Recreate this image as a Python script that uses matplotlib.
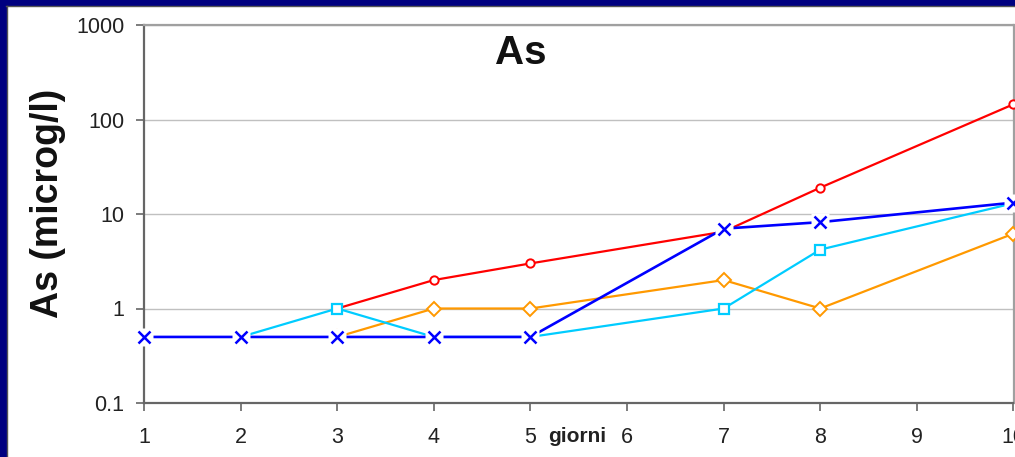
import matplotlib.pyplot as plt
from matplotlib.patches import Rectangle
from matplotlib.transforms import ScaledTranslation
from matplotlib.ticker import FixedLocator, FixedFormatter, NullLocator

plt.rcParams['font.family'] = ['Liberation Sans', 'DejaVu Sans']

# arsenic concentration (microg/l) per day, one list pair per sample series
red_days = [3, 4, 5, 7, 8, 10]
red_vals = [1, 2, 3, 6.5, 19, 145]
orange_days = [3, 4, 5, 7, 8, 10]
orange_vals = [0.5, 1, 1, 2, 1, 6.2]
cyan_days = [2, 3, 4, 5, 7, 8, 10]
cyan_vals = [0.5, 1, 0.5, 0.5, 1, 4.2, 13]
blue_days = [1, 2, 3, 4, 5, 7, 8, 10]
blue_vals = [0.5, 0.5, 0.5, 0.5, 0.5, 7, 8.2, 13.2]

x_ticks = [1, 2, 3, 4, 5, 6, 7, 8, 9, 10]
y_ticks = [0.1, 1, 10, 100, 1000]
y_labels = ['0.1', '1', '10', '100', '1000']

fig = plt.figure(figsize=(10.15, 4.57), dpi=100)
fig.patch.set_facecolor('white')

# navy frame strips along the left and top edges
fig.patches.append(Rectangle((0, 0), 6 / 1015, 1, transform=fig.transFigure,
                             color='#000080', zorder=0))
fig.patches.append(Rectangle((0, 1 - 5 / 457), 1, 5 / 457, transform=fig.transFigure,
                             color='#000080', zorder=0))
fig.lines.append(plt.Line2D([6 / 1015, 1], [1 - 6 / 457, 1 - 6 / 457],
                            transform=fig.transFigure, color='#555555', lw=1))
fig.lines.append(plt.Line2D([6.5 / 1015, 6.5 / 1015], [0, 1 - 6 / 457],
                            transform=fig.transFigure, color='#555555', lw=1))

ax = fig.add_axes([144 / 1015, 54 / 457, 869.5 / 1015, 378 / 457])
ax.set_yscale('log')
ax.set_ylim(0.1, 1000)
ax.set_xlim(1, 10)

ax.yaxis.set_major_locator(FixedLocator(y_ticks))
ax.yaxis.set_major_formatter(FixedFormatter(y_labels))
ax.yaxis.set_minor_locator(NullLocator())
ax.set_xticks(x_ticks)
ax.grid(axis='y', color='#c0c0c0', lw=1)
ax.set_axisbelow(True)

for side in ['left', 'bottom']:
    ax.spines[side].set_color('#666666')
    ax.spines[side].set_linewidth(1.6)
for side in ['top', 'right']:
    ax.spines[side].set_color('#a0a0a0')
    ax.spines[side].set_linewidth(1.6)
ax.tick_params(direction='out', length=6, width=1.2, color='#666666',
               labelsize=15.5, labelcolor='#222222')
ax.tick_params(axis='x', pad=11)
ax.tick_params(axis='y', pad=8)

lw = 1.6
ax.plot(red_days, red_vals, color='#ff0000', lw=lw, marker='o', ms=6,
        mfc='white', mec='#ff0000', mew=1.4, clip_on=False, zorder=3)
ax.plot(orange_days, orange_vals, color='#ff9900', lw=lw, marker='D', ms=7,
        mfc='white', mec='#ff9900', mew=1.4, clip_on=False, zorder=4)
ax.plot(cyan_days, cyan_vals, color='#00ccff', lw=lw, marker='s', ms=7.5,
        mfc='white', mec='#00ccff', mew=1.6, clip_on=False, zorder=5)
ax.plot(blue_days, blue_vals, color='#0000ff', lw=lw + 0.3, clip_on=False, zorder=6)
ax.plot(blue_days, blue_vals, ls='none', marker='s', ms=13, mfc='white', mec='none',
        clip_on=False, zorder=7)
ax.plot(blue_days, blue_vals, ls='none', marker='x', ms=9, mec='#0000ff', mew=1.8,
        clip_on=False, zorder=8)

ax.text(0.433, 0.925, 'As', transform=ax.transAxes, ha='center', va='center',
        fontsize=29, fontweight='bold', color='#111111')
# axis title sits in the tick label row, between days 5 and 6
giorni_offset = ScaledTranslation(0, -17 / 72, fig.dpi_scale_trans)
ax.text(5.48, 0, 'giorni', ha='center', va='top', fontsize=15, fontweight='bold',
        color='#222222', transform=ax.get_xaxis_transform() + giorni_offset)
fig.text(48 / 1015, 1 - 203 / 457, 'As (microg/l)', rotation=90, ha='center',
         va='center', fontsize=27, fontweight='bold', color='#111111')

fig.savefig('out.png', dpi=100)
